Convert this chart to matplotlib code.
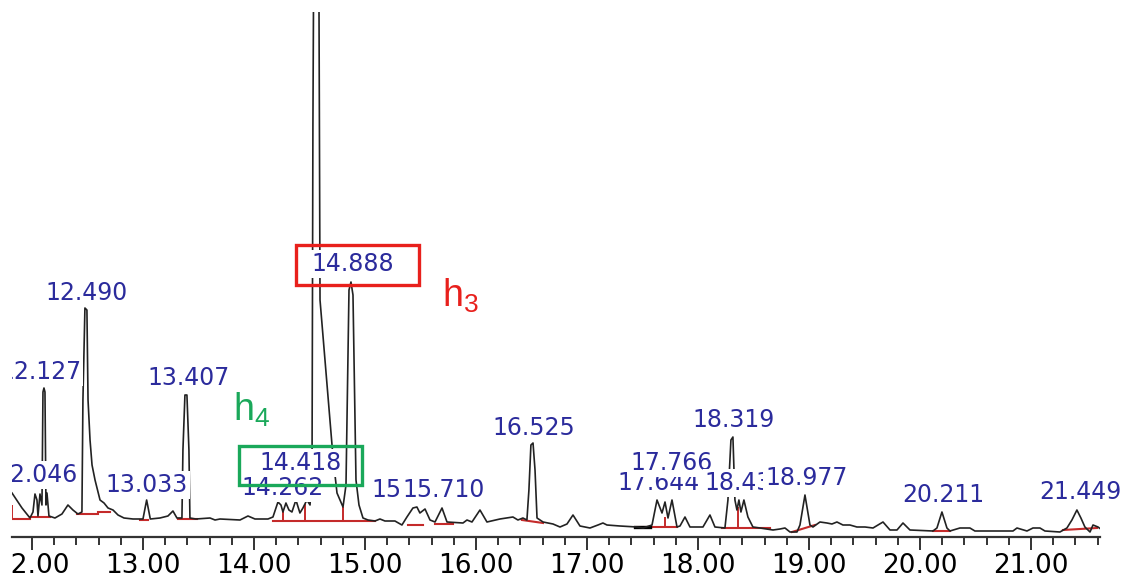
import matplotlib.pyplot as plt
from matplotlib.ticker import MultipleLocator, FormatStrFormatter
from matplotlib.transforms import Bbox, TransformedBbox
from matplotlib.patches import Rectangle

# chromatogram trace (retention time in min, signal in arbitrary units)
rt = [11.820, 11.910, 11.982, 12.009, 12.027, 12.045, 12.054, 12.072, 12.090, 12.099,
      12.108, 12.117, 12.126, 12.135, 12.153, 12.207, 12.270, 12.324, 12.369, 12.414,
      12.450, 12.459, 12.477, 12.495, 12.505, 12.523, 12.541, 12.568, 12.613, 12.649,
      12.685, 12.730, 12.775, 12.829, 12.910, 13.000, 13.033, 13.066, 13.153, 13.225,
      13.270, 13.306, 13.351, 13.360, 13.378, 13.396, 13.414, 13.423, 13.477, 13.604,
      13.649, 13.694, 13.874, 13.946, 14.009, 14.126, 14.171, 14.216, 14.243, 14.261,
      14.288, 14.315, 14.342, 14.378, 14.414, 14.441, 14.477, 14.505, 14.523, 14.531,
      14.536, 14.561, 14.586, 14.595, 14.712, 14.748, 14.802, 14.829, 14.856, 14.874,
      14.892, 14.919, 14.946, 14.982, 15.027, 15.090, 15.135, 15.180, 15.270, 15.333,
      15.378, 15.432, 15.468, 15.495, 15.541, 15.586, 15.631, 15.694, 15.739, 15.883,
      15.919, 15.964, 16.036, 16.099, 16.216, 16.333, 16.378, 16.423, 16.459, 16.477,
      16.495, 16.514, 16.532, 16.550, 16.604, 16.694, 16.757, 16.820, 16.874, 16.937,
      17.027, 17.099, 17.144, 17.180, 17.297, 17.450, 17.505, 17.586, 17.631, 17.676,
      17.703, 17.730, 17.766, 17.811, 17.838, 17.883, 17.928, 18.045, 18.108, 18.153,
      18.243, 18.270, 18.297, 18.315, 18.333, 18.351, 18.369, 18.387, 18.414, 18.450,
      18.495, 18.559, 18.676, 18.739, 18.784, 18.829, 18.892, 18.919, 18.964, 19.009,
      19.036, 19.099, 19.162, 19.207, 19.252, 19.306, 19.369, 19.432, 19.505, 19.577,
      19.667, 19.730, 19.793, 19.847, 19.910, 20.117, 20.153, 20.198, 20.243, 20.270,
      20.360, 20.450, 20.495, 20.838, 20.874, 20.964, 21.018, 21.081, 21.126, 21.261,
      21.324, 21.369, 21.414, 21.450, 21.486, 21.532, 21.559, 21.604, 21.640]
signal = [44, 29, 19, 25, 43, 37, 21, 43, 32, 145,
          149, 145, 32, 44, 21, 19, 23, 32, 27, 23,
          25, 137, 229, 227, 137, 97, 72, 57, 37, 34,
          29, 27, 22, 19, 18, 18, 37, 18, 19, 21,
          26, 19, 19, 87, 142, 142, 87, 19, 18, 19,
          17, 18, 17, 21, 18, 18, 20, 35, 32, 25,
          34, 27, 25, 37, 24, 29, 37, 32, 67, 410,
          524, 1480, 524, 237, 80, 44, 30, 52, 247, 255,
          242, 57, 32, 19, 17, 16, 18, 16, 16, 12,
          20, 29, 30, 24, 28, 17, 15, 29, 15, 14,
          17, 15, 27, 15, 18, 20, 17, 19, 17, 47,
          92, 94, 67, 19, 15, 13, 10, 13, 22, 11,
          9, 12, 14, 12, 11, 10, 9, 12, 37, 24,
          35, 19, 37, 10, 11, 20, 10, 10, 22, 10,
          9, 37, 97, 100, 37, 27, 37, 25, 37, 20,
          10, 9, 7, 8, 9, 5, 5, 12, 42, 12,
          10, 15, 14, 13, 15, 12, 12, 10, 10, 9,
          15, 7, 7, 14, 7, 6, 9, 25, 9, 6,
          9, 9, 6, 6, 9, 6, 9, 9, 6, 5,
          9, 17, 27, 19, 10, 5, 12, 10, 7]

# integration baselines (start, end, level at start, level at end)
base_start = [11.820, 11.982, 12.405, 12.595, 12.973, 13.315, 14.171, 15.387, 15.631, 16.414,
              17.432, 18.216, 18.847, 20.117, 21.288]
base_end = [11.982, 12.162, 12.595, 12.703, 13.045, 13.486, 15.090, 15.523, 15.793, 16.604,
            17.811, 18.649, 19.054, 20.270, 21.595]
base_lo = [18, 20, 23, 25, 17, 18, 16, 12, 13, 17, 10, 9, 5, 6, 7]
base_hi = [18, 20, 23, 25, 17, 18, 16, 12, 13, 14, 10, 9, 12, 6, 9]
drop_rt = [11.822, 14.261, 14.459, 14.802, 17.703, 18.360]
drop_lo = [18, 16, 16, 16, 10, 9]
drop_hi = [32, 25, 33, 30, 20, 30]

# peak labels (text, where it sits)
peak_labels = ['12.046', '12.127', '12.490', '13.033', '13.407', '14.262', '14.418', '14.888',
               '15.433', '15.710', '16.525', '17.644', '17.766', '18.319', '18.432', '18.977',
               '20.211', '21.449']
label_rt = [12.040, 12.075, 12.490, 13.033, 13.407, 14.262, 14.418, 14.888,
            15.433, 15.710, 16.525, 17.644, 17.766, 18.319, 18.432, 18.977,
            20.211, 21.449]
label_level = [62, 165, 244, 52, 159, 49, 74, 273,
               47, 47, 109, 54, 74, 117, 54, 59,
               42, 45]

major_ticks = [12, 13, 14, 15, 16, 17, 18, 19, 20, 21]

W, H = 1132, 580
fig = plt.figure(figsize=(W / 100, H / 100), dpi=100)
ax = fig.add_axes([12 / W, 43 / H, 1088 / W, 525 / H])

# the left edge of the original picture cuts the first texts
clip = TransformedBbox(Bbox([[12 / W, 0], [1, 1]]), fig.transFigure)

# trace
ax.plot(rt, signal, color="#222222", linewidth=1.2, zorder=2)

# red integration baselines + drop lines
for s, e, a, b in zip(base_start, base_end, base_lo, base_hi):
    ax.plot([s, e], [a, b], color="#c42a2a", linewidth=1.5, zorder=1.5)
ax.plot([17.432, 17.568], [10, 10], color="black", linewidth=2.4, zorder=1.6)
ax.vlines(drop_rt, drop_lo, drop_hi, color="#c42a2a", linewidth=1.4, zorder=1.5)

# peak labels with white background that hides the trace
for i, (txt, x, y) in enumerate(zip(peak_labels, label_rt, label_level)):
    t = ax.text(x, y, txt, ha="center", va="center",
                fontsize=17, color="#2b2b9c", family="DejaVu Sans",
                bbox=dict(boxstyle="square,pad=0.08", facecolor="white", edgecolor="none"),
                zorder=3 + i * 0.01)
    if x < 12.2:
        t.set_clip_box(clip)
        t.set_clip_on(True)

# highlight boxes
ax.add_patch(Rectangle((14.378, 252), 1.108, 40, fill=False,
                       edgecolor="#e8201c", linewidth=2.4, zorder=5, clip_on=False))
ax.add_patch(Rectangle((13.865, 52), 1.108, 39, fill=False,
                       edgecolor="#1aa85a", linewidth=2.4, zorder=5, clip_on=False))
ax.text(15.69, 241, r"h$_\mathregular{3}$", color="#e8201c", fontsize=27,
        family="Liberation Sans", ha="left", va="center", zorder=5)
ax.text(13.81, 127, r"h$_\mathregular{4}$", color="#1aa85a", fontsize=27,
        family="Liberation Sans", ha="left", va="center", zorder=5)

ax.set_xlim(11.82, 21.622)
ax.set_ylim(0, 525)

ax.set_xticks(major_ticks)
ax.xaxis.set_major_formatter(FormatStrFormatter("%.2f"))
ax.xaxis.set_minor_locator(MultipleLocator(0.2))
ax.tick_params(axis="x", which="major", length=9, width=1.4, color="#333333",
               labelsize=19, pad=2.5)
ax.tick_params(axis="x", which="minor", length=6, width=1.4, color="#333333")

ax.yaxis.set_visible(False)
for side in ["top", "left", "right"]:
    ax.spines[side].set_visible(False)
ax.spines["bottom"].set_linewidth(1.6)
ax.spines["bottom"].set_color("#333333")

for lab in ax.get_xticklabels():
    lab.set_family("DejaVu Sans")
first = ax.get_xticklabels()[0]
first.set_clip_box(clip)
first.set_clip_on(True)

fig.savefig("out.png", dpi=100)
